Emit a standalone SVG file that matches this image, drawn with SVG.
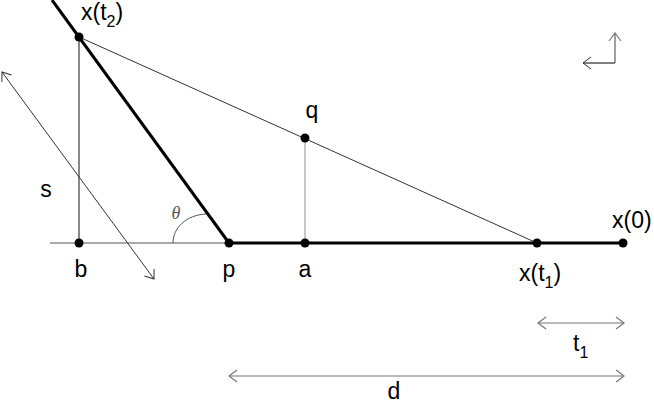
<svg xmlns="http://www.w3.org/2000/svg" width="654" height="405" viewBox="0 0 654 405">
<defs>
<style>
.lbl{font-family:"Liberation Sans",Arial,sans-serif;font-size:23px;fill:#000}
.sub{font-size:16px}
.theta{font-family:"Liberation Serif","Times New Roman",serif;font-style:italic;font-size:18px;fill:#555}
.thick{stroke:#000;stroke-width:3;fill:none}
.thin{stroke:#333;stroke-width:1;fill:none}
.dot{fill:#000}
.dim{stroke:#777;stroke-width:1.2;fill:none}
</style>
<marker id="ahGray" viewBox="0 0 10 14" refX="9" refY="7" markerUnits="userSpaceOnUse" markerWidth="10" markerHeight="14" orient="auto-start-reverse">
<path d="M1,1 L9,7 L1,13" fill="none" stroke="#777" stroke-width="1.2"/>
</marker>
<marker id="ahDark" viewBox="0 0 10 14" refX="9" refY="7" markerUnits="userSpaceOnUse" markerWidth="10" markerHeight="14" orient="auto-start-reverse">
<path d="M1,1 L9,7 L1,13" fill="none" stroke="#333" stroke-width="1"/>
</marker>
</defs>
<rect width="654" height="405" fill="#fff"/>
<g id="connectors">
<line x1="50" y1="243" x2="229" y2="243" stroke="#555" stroke-width="1"/>
<line x1="229" y1="243" x2="623" y2="243" class="thick"/>
<line x1="52" y1="0" x2="229" y2="243" class="thick"/>
<line x1="79" y1="37" x2="79" y2="243" stroke="#888" stroke-width="2"/>
<line x1="305" y1="138" x2="305" y2="243" stroke="#bbb" stroke-width="1.6"/>
<line x1="79" y1="37" x2="537" y2="243" class="thin"/>
<path d="M173,243 C173,228 186,215 206,214" stroke="#555" stroke-width="1" fill="none"/>
<line x1="2" y1="72" x2="154" y2="279" class="thin" marker-start="url(#ahDark)" marker-end="url(#ahDark)"/>
<line x1="538" y1="323" x2="624" y2="323" class="dim" marker-start="url(#ahGray)" marker-end="url(#ahGray)"/>
<line x1="229" y1="376" x2="624" y2="376" class="dim" marker-start="url(#ahGray)" marker-end="url(#ahGray)"/>
<line x1="615" y1="63" x2="615" y2="33" stroke="#888" stroke-width="1.6" marker-end="url(#ahGray)"/>
<line x1="615" y1="63" x2="583" y2="63" stroke="#000" stroke-width="1" marker-end="url(#ahDark)"/>
</g>
<g id="node-xt2"><circle class="dot" cx="79" cy="37" r="4.5"/><text class="lbl" x="81" y="20">x(t<tspan class="sub" dy="7">2</tspan><tspan dy="-7">)</tspan></text></g>
<g id="node-b"><circle class="dot" cx="79" cy="243" r="4.5"/><text class="lbl" x="81" y="277" text-anchor="middle">b</text></g>
<g id="node-p"><circle class="dot" cx="229" cy="243" r="4.5"/><text class="lbl" x="229" y="277" text-anchor="middle">p</text></g>
<g id="node-a"><circle class="dot" cx="305" cy="243" r="4.5"/><text class="lbl" x="305" y="277" text-anchor="middle">a</text></g>
<g id="node-q"><circle class="dot" cx="305" cy="138" r="4.5"/><text class="lbl" x="312" y="118" text-anchor="middle">q</text></g>
<g id="node-xt1"><circle class="dot" cx="537" cy="243" r="4.5"/><text class="lbl" x="519" y="281">x(t<tspan class="sub" dy="7">1</tspan><tspan dy="-7">)</tspan></text></g>
<g id="node-x0"><circle class="dot" cx="623" cy="243" r="4.5"/><text class="lbl" x="612" y="228">x(0)</text></g>
<g id="label-s"><text class="lbl" x="46" y="197" text-anchor="middle">s</text></g>
<g id="label-theta"><text class="theta" x="176" y="219" text-anchor="middle">θ</text></g>
<g id="label-t1"><text class="lbl" x="573" y="351">t<tspan class="sub" dy="7">1</tspan></text></g>
<g id="label-d"><text class="lbl" x="394" y="399" text-anchor="middle">d</text></g>
</svg>
